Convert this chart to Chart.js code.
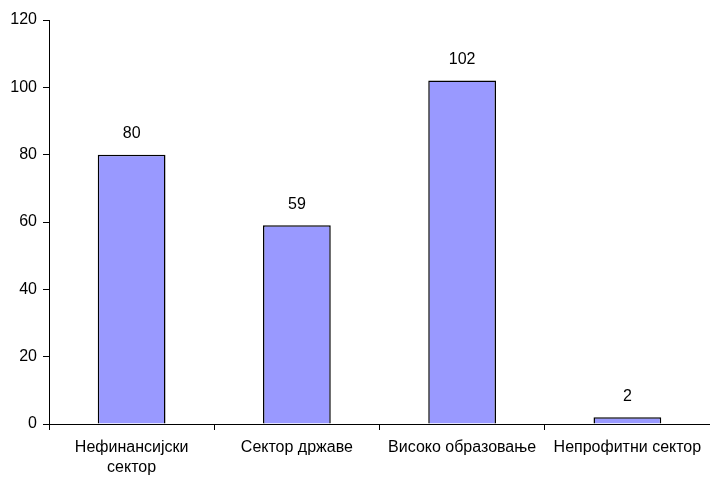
<!DOCTYPE html>
<html>
<head>
<meta charset="utf-8">
<script src="https://cdn.jsdelivr.net/npm/chart.js@4"></script>
<style>
  html, body { margin: 0; padding: 0; background: #fff; }
  #wrap { width: 710px; height: 477px; }
</style>
</head>
<body>
<div id="wrap"><canvas id="grafikon"></canvas></div>
<script>
// Категорије и вредности очитане са слике
const KATEGORIJE = [['Нефинансијски', 'сектор'], 'Сектор државе', 'Високо образовање', 'Непрофитни сектор'];
const VREDNOSTI = [80, 59, 102, 2];
const Y_MIN = 0;
const Y_MAX = 120;
const Y_KORAK = 20;

const FONT = { family: 'Arial, "Liberation Sans", sans-serif', size: 16, lineHeight: 1.25 };

// Бројеви изнад стубова
const oznakeIznad = {
    id: 'oznakeIznad',
    afterDatasetsDraw(chart) {
        const ctx = chart.ctx;
        const meta = chart.getDatasetMeta(0);
        ctx.save();
        ctx.fillStyle = '#000';
        ctx.font = `${FONT.size}px ${FONT.family}`;
        ctx.textAlign = 'center';
        ctx.textBaseline = 'middle';
        meta.data.forEach((bar, i) => {
            ctx.fillText(String(VREDNOSTI[i]), bar.x, bar.y - 21);
        });
        ctx.restore();
    }
};

new Chart(document.getElementById('grafikon').getContext('2d'), {
    type: 'bar',
    data: {
        labels: KATEGORIJE,
        datasets: [{
            data: VREDNOSTI,
            backgroundColor: '#9999FF',
            borderColor: '#000',
            borderWidth: 1.5,
            categoryPercentage: 1,
            barPercentage: 0.41,
        }],
    },
    options: {
        responsive: true,
        maintainAspectRatio: false,
        animation: false,
        layout: { padding: { top: 20, right: 0, left: 0, bottom: 0 } },
        plugins: { legend: { display: false }, tooltip: { enabled: false } },
        scales: {
            x: {
                offset: true,
                afterFit: (scale) => { scale.height = 53; },
                grid: { offset: true, drawOnChartArea: false, drawTicks: true, tickLength: 6, color: '#000' },
                border: { color: '#000', width: 1 },
                ticks: { color: '#000', font: FONT, maxRotation: 0, autoSkip: false, padding: 8 },
            },
            y: {
                min: Y_MIN,
                max: Y_MAX,
                afterFit: (scale) => { scale.width = 49; },
                grid: { drawOnChartArea: false, drawTicks: true, tickLength: 6, color: '#000' },
                border: { color: '#000', width: 1 },
                ticks: { stepSize: Y_KORAK, color: '#000', font: FONT, padding: 6 },
            },
        },
    },
    plugins: [oznakeIznad],
});
</script>
</body>
</html>
